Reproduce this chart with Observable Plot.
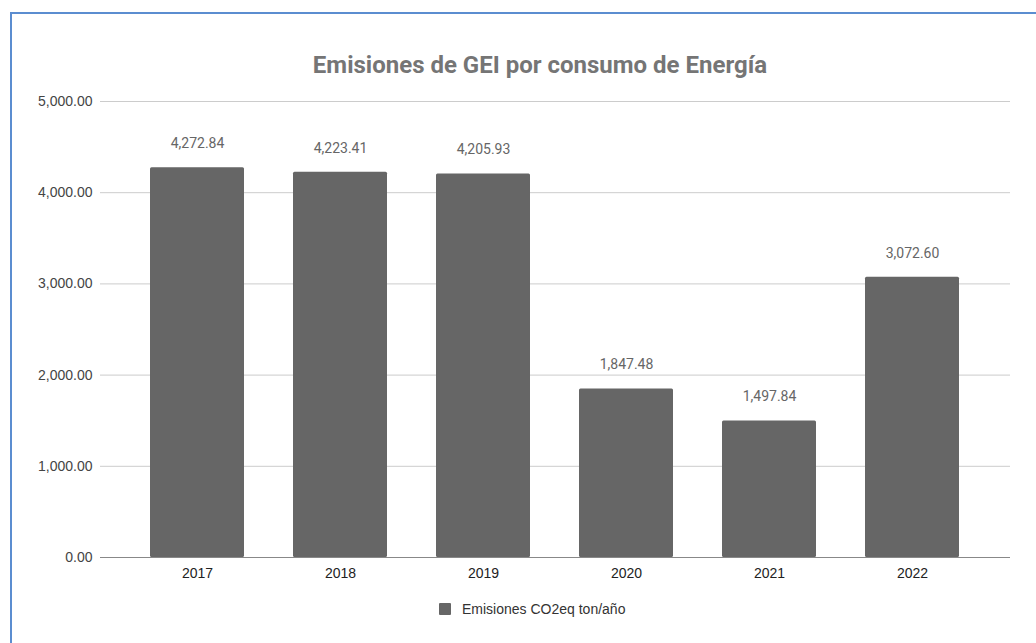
<!DOCTYPE html>
<html>
<head>
<meta charset="utf-8">
<script src="https://cdn.jsdelivr.net/npm/d3@7"></script>
<script src="https://cdn.jsdelivr.net/npm/@observablehq/plot@0.6"></script>
<style>
  html, body { margin: 0; padding: 0; background: #fff; }
  #wrap { position: relative; width: 1036px; height: 643px; overflow: hidden; background: #fff; }
  #frame { position: absolute; left: 10px; top: 12px; width: 1040px; height: 700px;
           border-left: 2px solid #5b8dd0; border-top: 2px solid #5b8dd0; box-sizing: border-box; }
  #title { position: absolute; left: 0; top: 50px; width: 1080px; height: 30px; line-height: 30px;
           text-align: center; font-family: Roboto, "Liberation Sans", sans-serif; font-weight: 700;
           font-size: 24px; color: #757575; }
  #chart { position: absolute; left: 0; top: 0; }
  #legend { position: absolute; left: 439px; top: 599px; height: 20px; display: flex; align-items: center;
            font-family: "Liberation Sans", Arial, sans-serif; font-size: 14px; color: #333; }
  #legend .sw { width: 12px; height: 12px; background: #666666; margin-right: 11px; border-radius: 1px; }
</style>
</head>
<body>
<div id="wrap">
  <div id="frame"></div>
  <div id="title">Emisiones de GEI por consumo de Energía</div>
  <div id="chart"></div>
  <div id="legend"><div class="sw"></div><span id="legendLabel"></span></div>
</div>
<script>
const years = ["2017", "2018", "2019", "2020", "2021", "2022"];
const emissions = [4272.84, 4223.41, 4205.93, 1847.48, 1497.84, 3072.60];
const yTicks = [0, 1000, 2000, 3000, 4000, 5000];
const seriesName = "Emisiones CO2eq ton/año";

const data = years.map((y, i) => ({year: y, value: emissions[i]}));
const fmt = d3.format(",.2f");

document.getElementById("legendLabel").textContent = seriesName;

const plot = Plot.plot({
  width: 1036,
  height: 590,
  marginLeft: 100,
  marginRight: 26,
  marginTop: 101,
  marginBottom: 33,
  style: {background: "transparent", fontFamily: "'Liberation Sans', Arial, sans-serif", fontSize: "14px", overflow: "visible"},
  x: {domain: years, padding: 0.34, label: null},
  y: {domain: [0, 5000], label: null},
  marks: [
    Plot.ruleY(yTicks.filter(d => d > 0), {stroke: "#cccccc", strokeWidth: 1}),
    Plot.barY(data, {x: "year", y: "value", fill: "#666666", rx: 1.5}),
    Plot.ruleY([0], {stroke: "#888888", strokeWidth: 1.2}),
    Plot.text(data, {x: "year", y: "value", text: d => fmt(d.value), dy: -24,
      fontFamily: "Roboto, sans-serif", fontSize: 14, fill: "#666666"}),
    Plot.axisY({ticks: yTicks, tickFormat: fmt, tickSize: 0, tickPadding: 8, label: null,
      fill: "#444444", fontSize: 14}),
    Plot.axisX({tickSize: 0, tickPadding: 11, label: null, fill: "#222222", fontSize: 14})
  ]
});
document.getElementById("chart").appendChild(plot);
</script>
</body>
</html>
